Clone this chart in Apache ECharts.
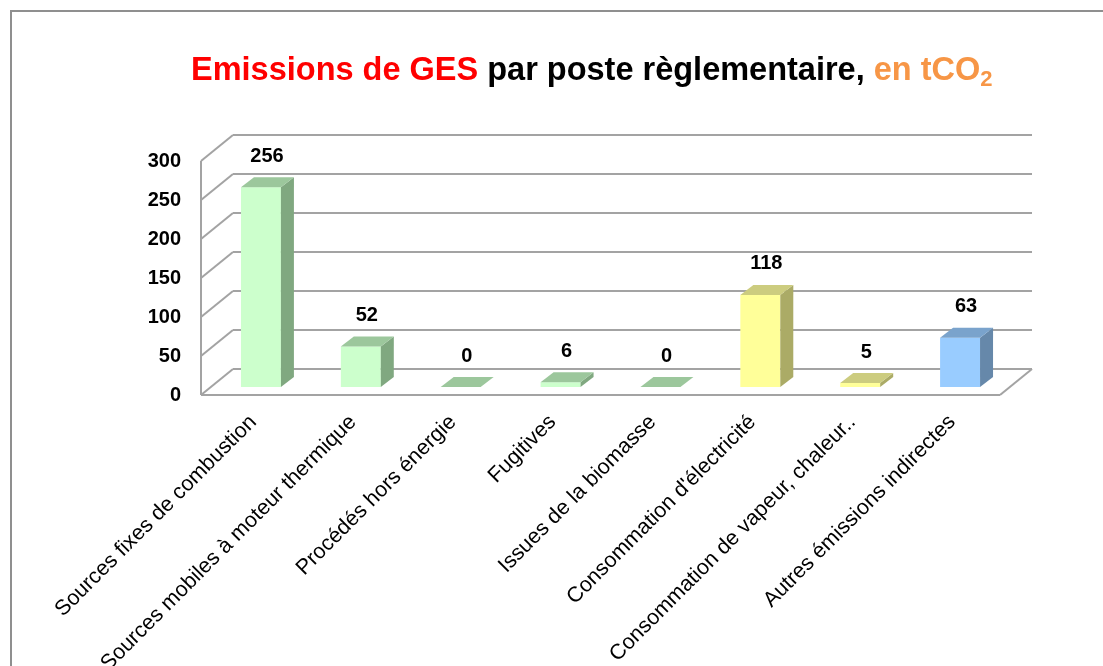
<!DOCTYPE html>
<html>
<head>
<meta charset="utf-8">
<script src="https://cdn.jsdelivr.net/npm/echarts@6/dist/echarts.min.js"></script>
<style>
  html, body { margin: 0; padding: 0; background: #fff; }
  #chart { width: 1103px; height: 666px; }
</style>
</head>
<body>
<div id="chart"></div>
<script>
const categories = [
  'Sources fixes de combustion',
  'Sources mobiles à moteur thermique',
  'Procédés hors énergie',
  'Fugitives',
  'Issues de la biomasse',
  "Consommation d'électricité",
  'Consommation de vapeur, chaleur..',
  'Autres émissions indirectes'
]
const values = [256, 52, 0, 6, 0, 118, 5, 63]
const yTicks = [0, 50, 100, 150, 200, 250, 300]

// colour group of each bar: front / side / top faces
const palette = {
  green: ['#ccffcc', '#80a880', '#9cc79c'],
  yellow: ['#ffff99', '#abab66', '#cccc7f'],
  blue: ['#99ccff', '#6688aa', '#7aa3cc']
}
const barGroups = ['green', 'green', 'green', 'green', 'green', 'yellow', 'yellow', 'blue']

const FONT = '"Liberation Sans", Arial, sans-serif'
// perspective offsets (px) from the bar plane
const BACK = [22, -18]
const FRONT = [-10, 8]
const DEPTH = [13, -10]

const chart = echarts.init(document.getElementById('chart'))

function renderWalls(params, api) {
  const cs = params.coordSys
  const L = cs.x
  const R = cs.x + cs.width
  const children = []
  const line = (x1, y1, x2, y2) => children.push({
    type: 'line',
    shape: { x1, y1, x2, y2 },
    style: { stroke: '#a3a3a3', lineWidth: 2 }
  })
  yTicks.forEach(t => {
    const y = api.coord([0, t])[1]
    line(L + BACK[0], y + BACK[1], R + BACK[0], y + BACK[1])
    line(L + FRONT[0], y + FRONT[1], L + BACK[0], y + BACK[1])
  })
  const y0 = api.coord([0, 0])[1]
  const yTop = api.coord([0, yTicks[yTicks.length - 1]])[1]
  line(L + FRONT[0], yTop + FRONT[1], L + FRONT[0], y0 + FRONT[1])
  line(L + FRONT[0], y0 + FRONT[1], R + FRONT[0], y0 + FRONT[1])
  line(R + FRONT[0], y0 + FRONT[1], R + BACK[0], y0 + BACK[1])
  return { type: 'group', children }
}

function renderBar(params, api) {
  const i = api.value(0)
  const v = api.value(1)
  const base = api.coord([i, 0])
  const top = api.coord([i, v])
  const w = api.size([1, 0])[0] * 0.4
  const x1 = base[0] - w / 2
  const x2 = base[0] + w / 2
  const yb = base[1]
  const yt = top[1]
  const c = palette[barGroups[params.dataIndex]]
  const dx = DEPTH[0], dy = DEPTH[1]
  const children = []
  if (yb - yt > 0.5) {
    children.push({
      type: 'rect',
      shape: { x: x1, y: yt, width: w, height: yb - yt },
      style: { fill: c[0] }
    })
    children.push({
      type: 'polygon',
      shape: { points: [[x2, yb], [x2 + dx, yb + dy], [x2 + dx, yt + dy], [x2, yt]] },
      style: { fill: c[1] }
    })
  }
  children.push({
    type: 'polygon',
    shape: { points: [[x1, yt], [x2, yt], [x2 + dx, yt + dy], [x1 + dx, yt + dy]] },
    style: { fill: c[2] }
  })
  children.push({
    type: 'text',
    style: {
      text: String(v),
      x: base[0] + 6,
      y: yt - 31,
      align: 'center',
      verticalAlign: 'middle',
      fill: '#000',
      font: 'bold 20px ' + FONT
    }
  })
  return { type: 'group', children }
}

chart.setOption({
  animation: false,
  backgroundColor: '#fff',
  textStyle: { fontFamily: FONT },
  graphic: [{
    type: 'rect',
    shape: { x: 11, y: 11, width: 1300, height: 900 },
    style: { fill: 'none', stroke: '#8f8f8f', lineWidth: 2 },
    silent: true
  }],
  title: {
    text: '{r|Emissions de GES} {k|par poste règlementaire,} {o|en tCO}{s|2}',
    left: 186,
    top: 46,
    textStyle: {
      fontSize: 32.5,
      fontWeight: 'bold',
      fontFamily: FONT,
      rich: {
        r: { fontSize: 32.5, fontWeight: 'bold', fontFamily: FONT, color: '#ff0000' },
        k: { fontSize: 32.5, fontWeight: 'bold', fontFamily: FONT, color: '#000000' },
        o: { fontSize: 32.5, fontWeight: 'bold', fontFamily: FONT, color: '#f79646' },
        s: { fontSize: 22, fontWeight: 'bold', fontFamily: FONT, color: '#f79646', padding: [18, 0, 0, 0] }
      }
    }
  },
  grid: { left: 211, right: 93, top: 153, bottom: 279, outerBoundsMode: 'none' },
  xAxis: {
    type: 'category',
    data: categories,
    axisLine: { show: false },
    axisTick: { show: false },
    axisLabel: {
      interval: 0,
      rotate: 45,
      margin: 24,
      formatter: v => '{a|' + v + '}',
      rich: {
        a: { color: '#000', fontSize: 21.5, fontFamily: FONT, padding: [0, 11, 0, 0] }
      }
    }
  },
  yAxis: {
    type: 'value',
    min: 0,
    max: 300,
    interval: 50,
    axisLine: { show: false },
    axisTick: { show: false },
    splitLine: { show: false },
    axisLabel: {
      margin: 30,
      color: '#000',
      fontSize: 20,
      fontWeight: 'bold',
      fontFamily: FONT,
      verticalAlign: 'top',
      lineHeight: 16
    }
  },
  series: [
    {
      type: 'custom',
      silent: true,
      renderItem: renderWalls,
      data: [[0, 0]],
      z: 1
    },
    {
      type: 'custom',
      renderItem: renderBar,
      data: values.map((v, i) => [i, v]),
      z: 2
    }
  ]
})
</script>
</body>
</html>
